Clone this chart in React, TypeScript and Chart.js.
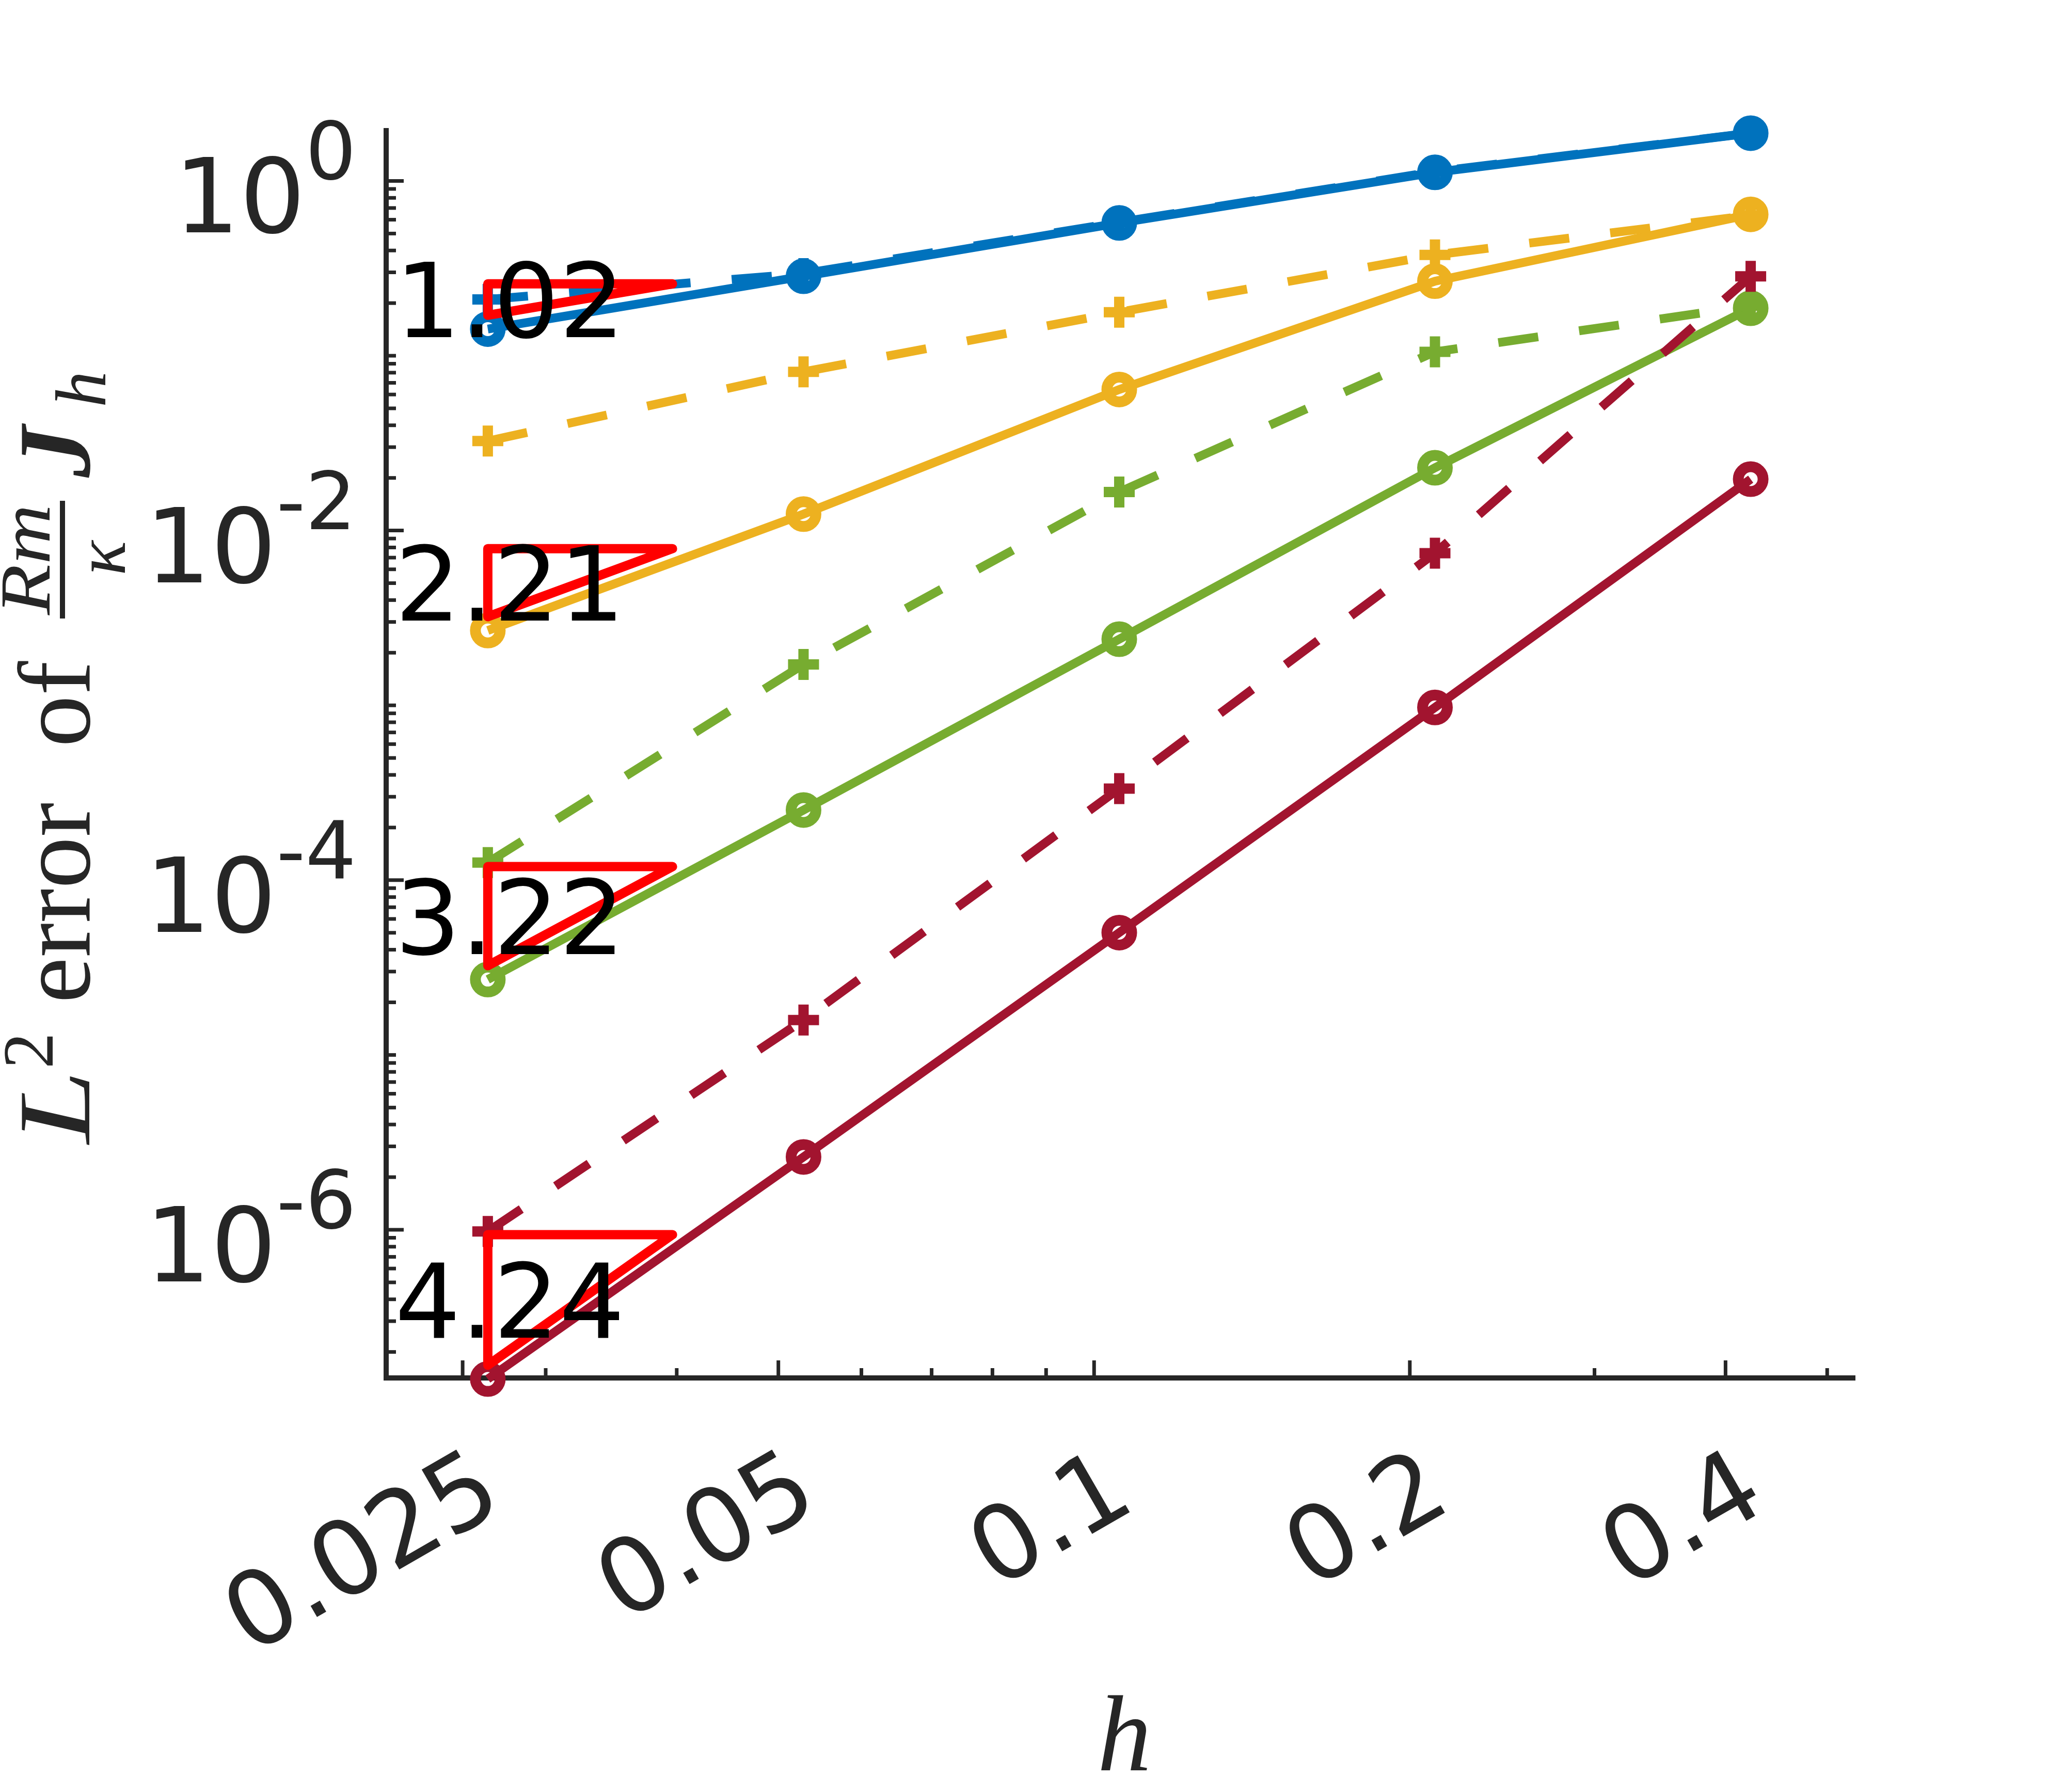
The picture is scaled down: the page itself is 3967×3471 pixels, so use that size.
import React, { useEffect, useRef } from "react";
import { Chart, registerables } from "chart.js";

Chart.register(...registerables);

// ---------- data ----------
const hValues = [0.02642, 0.05284, 0.10568, 0.21135, 0.4227];

const blueSolid = [0.142, 0.285, 0.575, 1.12, 1.876];
const blueDashed = [0.21, 0.295, 0.58, 1.13, 1.88];
const yellowSolid = [0.00268, 0.01242, 0.0641, 0.267, 0.644];
const yellowDashed = [0.0325, 0.0809, 0.1775, 0.3774, 0.635];
const greenSolid = [2.7e-5, 2.52e-4, 0.00239, 0.02286, 0.187];
const greenDashed = [1.26e-4, 0.001714, 0.0166, 0.1053, 0.193];
const maroonSolid = [1.4e-7, 2.61e-6, 5.01e-5, 9.73e-4, 0.01968];
const maroonDashed = [9.78e-7, 1.585e-5, 3.34e-4, 0.00742, 0.2845];

const slopeRates = [1.02, 2.21, 3.22, 4.24];
const slopeLabels = ["1.02", "2.21", "3.22", "4.24"];

const xTickValues = [0.025, 0.05, 0.1, 0.2, 0.4];
const xTickLabels = ["0.025", "0.05", "0.1", "0.2", "0.4"];
const xMinorTickValues = [0.03, 0.04, 0.06, 0.07, 0.08, 0.09, 0.3, 0.5];
const yTickValues = [1, 1e-2, 1e-4, 1e-6];
const yTickExponents = ["0", "-2", "-4", "-6"];

const X_MAX = 0.532;
const Y_MIN = 1.42e-7;
const Y_MAX = 1.94;

const BLUE = "#0072BD";
const YELLOW = "#EDB120";
const GREEN = "#77AC30";
const MAROON = "#A2142F";
const AXIS = "#262626";

const pts = (ys: number[]) => hValues.map((x, i) => ({ x, y: ys[i] }));

function solidSet(ys: number[], color: string) {
  return {
    data: pts(ys),
    borderColor: color,
    borderWidth: 17,
    pointStyle: "circle",
    pointRadius: 24,
    pointBorderWidth: 21,
    pointBorderColor: color,
    pointBackgroundColor: "rgba(0,0,0,0)",
    fill: false,
    tension: 0,
    clip: false,
  };
}

function dashedSet(ys: number[], color: string) {
  return {
    data: pts(ys),
    borderColor: color,
    borderWidth: 17,
    borderDash: [78, 80],
    pointStyle: "cross",
    pointRadius: 30,
    pointBorderWidth: 20,
    pointBorderColor: color,
    pointBackgroundColor: color,
    fill: false,
    tension: 0,
    clip: false,
  };
}

const solidSeries = [blueSolid, yellowSolid, greenSolid, maroonSolid];

function triangle(k: number) {
  const x0 = hValues[0];
  const bottom = solidSeries[k][0] * 1.2;
  const top = bottom * Math.pow(1.5, slopeRates[k]);
  return { x0, x1: x0 * 1.5, bottom, top };
}

function triangleSet(k: number) {
  const t = triangle(k);
  return {
    data: [
      { x: t.x0, y: t.bottom },
      { x: t.x0, y: t.top },
      { x: t.x1, y: t.top },
      { x: t.x0, y: t.bottom },
    ],
    borderColor: "#FF0000",
    borderWidth: 18,
    borderJoinStyle: "round",
    borderCapStyle: "round",
    pointRadius: 0,
    fill: false,
    tension: 0,
    clip: false,
  };
}

const decorPlugin = {
  id: "decor",
  beforeDatasetsDraw(chart: any) {
    const ctx = chart.ctx;
    const xs = chart.scales.x;
    const ys = chart.scales.y;
    const { left, bottom } = chart.chartArea;
    ctx.save();
    ctx.strokeStyle = AXIS;
    ctx.lineWidth = 7;
    ctx.lineCap = "butt";
    // y ticks
    for (let e = -7; e <= 0; e++) {
      for (let k = 1; k <= 9; k++) {
        const v = Number((k * Math.pow(10, e)).toPrecision(6));
        if (v < Y_MIN || v > Y_MAX) continue;
        const major = yTickValues.some((t) => Math.abs(t - v) / t < 1e-6);
        const py = ys.getPixelForValue(v);
        ctx.beginPath();
        ctx.moveTo(left, py);
        ctx.lineTo(left + (major ? 34 : 19), py);
        ctx.stroke();
      }
    }
    // x ticks
    xTickValues.forEach((v) => {
      const px = xs.getPixelForValue(v);
      ctx.beginPath();
      ctx.moveTo(px, bottom);
      ctx.lineTo(px, bottom - 34);
      ctx.stroke();
    });
    xMinorTickValues.forEach((v) => {
      const px = xs.getPixelForValue(v);
      ctx.beginPath();
      ctx.moveTo(px, bottom);
      ctx.lineTo(px, bottom - 19);
      ctx.stroke();
    });
    ctx.restore();
  },
  afterDatasetsDraw(chart: any) {
    const ctx = chart.ctx;
    const xs = chart.scales.x;
    const ys = chart.scales.y;
    ctx.save();
    ctx.fillStyle = "#000000";
    ctx.font = '200px "DejaVu Sans"';
    ctx.textAlign = "left";
    ctx.textBaseline = "alphabetic";
    slopeLabels.forEach((lab, k) => {
      const t = triangle(k);
      const px = xs.getPixelForValue(t.x0 * 0.8) + 17;
      const py = ys.getPixelForValue(Math.sqrt(t.top * t.bottom)) + 73;
      ctx.fillText(lab, px, py);
    });
    ctx.restore();
  },
  afterDraw(chart: any) {
    const ctx = chart.ctx;
    const xs = chart.scales.x;
    const ys = chart.scales.y;
    const { left, bottom } = chart.chartArea;
    ctx.save();
    ctx.fillStyle = AXIS;
    ctx.textBaseline = "alphabetic";
    // y tick labels
    yTickValues.forEach((v, i) => {
      const py = ys.getPixelForValue(v);
      ctx.font = '200px "DejaVu Sans"';
      const w1 = ctx.measureText("10").width;
      ctx.font = '155px "DejaVu Sans"';
      const w2 = ctx.measureText(yTickExponents[i]).width;
      const right = left - 58;
      const x0 = right - w1 - w2;
      ctx.textAlign = "left";
      ctx.font = '200px "DejaVu Sans"';
      ctx.fillText("10", x0, py + 100);
      ctx.font = '155px "DejaVu Sans"';
      ctx.fillText(yTickExponents[i], x0 + w1, py - 3);
    });
    // x tick labels
    ctx.font = '200px "DejaVu Sans"';
    xTickValues.forEach((v, i) => {
      const px = xs.getPixelForValue(v);
      ctx.save();
      ctx.translate(px + 85, bottom + 251);
      ctx.rotate(-Math.PI / 6);
      ctx.textAlign = "right";
      ctx.fillText(xTickLabels[i], 0, 0);
      ctx.restore();
    });
    // x title
    ctx.font = 'italic 210px "Liberation Serif"';
    ctx.textAlign = "center";
    ctx.fillText("h", (chart.chartArea.left + chart.chartArea.right) / 2 + 7, 3429);
    // y title
    ctx.save();
    ctx.translate(173, 2215);
    ctx.rotate(-Math.PI / 2);
    ctx.textAlign = "left";
    ctx.font = 'italic 200px "Liberation Serif"';
    ctx.save();
    ctx.scale(1.28, 1);
    ctx.fillText("L", 0, 0);
    ctx.restore();
    ctx.font = '140px "Liberation Serif"';
    ctx.fillText("2", 145, -71);
    ctx.font = '200px "Liberation Serif"';
    ctx.fillText("error", 272, 0);
    ctx.fillText("of", 768, 0);
    ctx.fillRect(1017, -57, 228, 10);
    ctx.textAlign = "center";
    ctx.font = 'italic 140px "Liberation Serif"';
    ctx.save();
    ctx.translate(1131, -77);
    ctx.scale(1.15, 1);
    ctx.fillText("Rm", 0, 0);
    ctx.restore();
    ctx.fillText("\u03BA", 1134, 69);
    ctx.textAlign = "left";
    ctx.font = 'italic bold 200px "Liberation Serif"';
    ctx.fillText("J", 1290, 0);
    ctx.font = 'italic 140px "Liberation Serif"';
    ctx.fillText("h", 1426, 31);
    ctx.restore();
    ctx.restore();
  },
};

export default function App() {
  const canvasRef = useRef<HTMLCanvasElement | null>(null);

  useEffect(() => {
    document.body.style.margin = "0";
    const canvas = canvasRef.current;
    if (!canvas) return;
    const chart = new Chart(canvas, {
      type: "line",
      data: {
        datasets: [
          triangleSet(0),
          triangleSet(1),
          triangleSet(2),
          triangleSet(3),
          dashedSet(maroonDashed, MAROON),
          solidSet(maroonSolid, MAROON),
          dashedSet(greenDashed, GREEN),
          solidSet(greenSolid, GREEN),
          dashedSet(yellowDashed, YELLOW),
          solidSet(yellowSolid, YELLOW),
          dashedSet(blueDashed, BLUE),
          solidSet(blueSolid, BLUE),
        ] as any,
      },
      options: {
        animation: false,
        responsive: false,
        devicePixelRatio: 1,
        events: [],
        layout: { padding: { left: 748, right: 373, top: 253, bottom: 802 } },
        plugins: { legend: { display: false }, tooltip: { enabled: false } },
        scales: {
          x: {
            type: "logarithmic",
            min: hValues[0] * 0.8,
            max: X_MAX,
            bounds: "data",
            ticks: { display: false },
            grid: { display: false, drawTicks: false, lineWidth: 0 },
            border: { display: true, color: AXIS, width: 10 },
            afterFit: (s: any) => {
              s.height = 0;
            },
          },
          y: {
            type: "logarithmic",
            min: Y_MIN,
            max: Y_MAX,
            bounds: "data",
            ticks: { display: false },
            grid: { display: false, drawTicks: false, lineWidth: 0 },
            border: { display: true, color: AXIS, width: 10 },
            afterFit: (s: any) => {
              s.width = 0;
            },
          },
        },
      } as any,
      plugins: [decorPlugin],
    });
    return () => chart.destroy();
  }, []);

  return (
    <div style={{ width: 3967, height: 3471, background: "#ffffff" }}>
      <canvas ref={canvasRef} width={3967} height={3471} style={{ display: "block" }} />
    </div>
  );
}
